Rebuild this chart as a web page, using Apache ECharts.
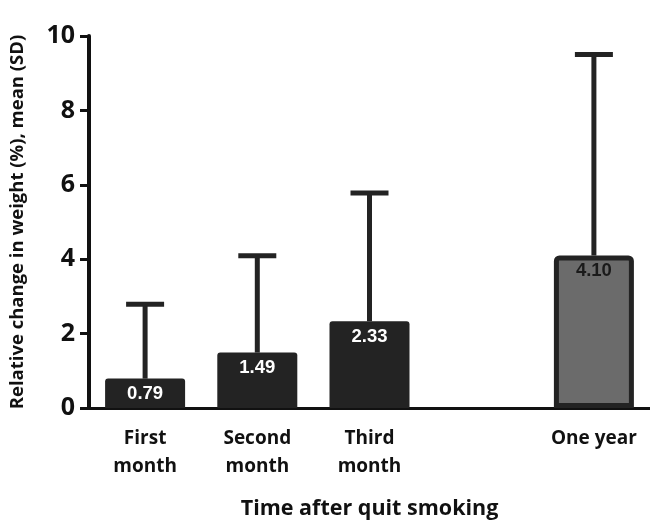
<!DOCTYPE html>
<html>
<head>
<meta charset="utf-8">
<script src="https://cdn.jsdelivr.net/npm/echarts@6/dist/echarts.min.js"></script>
<style>html,body{margin:0;padding:0;background:#fff;}#main{width:650px;height:525px;}</style>
</head>
<body>
<div id="main"></div>
<script>
var categories = ['First\nmonth', 'Second\nmonth', 'Third\nmonth', '', 'One year'];
var means = [0.79, 1.49, 2.33, null, 4.10];
var sds = [2.0, 2.6, 3.45, null, 5.4];
var yTicks = [0, 2, 4, 6, 8, 10];

var dark = '#232323';
var font = 'Open Sans';
var barData = means.map(function (v, i) {
  if (v === null) return null;
  if (i === 4) {
    return {
      value: v,
      itemStyle: { color: '#6b6b6b', borderColor: dark, borderWidth: 5, borderRadius: [3, 3, 0, 0] },
      label: { color: '#1a1a1a' }
    };
  }
  return { value: v };
});
var errData = means.map(function (v, i) {
  return v === null ? [i, null, null] : [i, v, v + sds[i]];
});

var chart = echarts.init(document.getElementById('main'));
chart.setOption({
  animation: false,
  grid: { left: 88, right: 0, top: 36, bottom: 113, containLabel: false },
  xAxis: {
    type: 'category',
    data: categories,
    name: 'Time after quit smoking',
    nameLocation: 'middle',
    nameGap: 90,
    nameTextStyle: { fontFamily: font, fontWeight: 'bold', fontSize: 21.5, color: '#111' },
    axisLine: { lineStyle: { color: '#111', width: 3 } },
    axisTick: { show: false },
    axisLabel: { fontFamily: font, fontWeight: 'bold', fontSize: 19, color: '#111', lineHeight: 28, margin: 17, interval: 0 }
  },
  yAxis: {
    type: 'value',
    min: yTicks[0],
    max: yTicks[yTicks.length - 1],
    interval: 2,
    name: 'Relative change in weight (%), mean (SD)',
    nameLocation: 'middle',
    nameGap: 62,
    nameTextStyle: { fontFamily: font, fontWeight: 'bold', fontSize: 18.5, color: '#111' },
    splitLine: { show: false },
    axisLine: { show: true, lineStyle: { color: '#111', width: 4 } },
    axisTick: { show: true, length: 9, lineStyle: { color: '#111', width: 3 } },
    axisLabel: { fontFamily: font, fontWeight: 'bold', fontSize: 25, color: '#111', margin: 14 }
  },
  series: [
    {
      type: 'bar',
      data: barData,
      barWidth: 80,
      z: 2,
      itemStyle: { color: dark, borderRadius: [3, 3, 0, 0] },
      label: {
        show: true,
        position: 'insideTop',
        distance: 6,
        color: '#fff',
        fontFamily: 'Liberation Sans',
        fontWeight: 'bold',
        fontSize: 18.5,
        formatter: function (p) { return p.value.toFixed(2); }
      }
    },
    {
      type: 'custom',
      z: 1,
      data: errData,
      renderItem: function (params, api) {
        var lo = api.value(1), hi = api.value(2);
        if (lo == null || isNaN(lo) || hi == null || isNaN(hi)) return null;
        var a = api.coord([api.value(0), lo]);
        var b = api.coord([api.value(0), hi]);
        var hw = 19;
        var st = { stroke: dark, lineWidth: 5 };
        return {
          type: 'group',
          children: [
            { type: 'line', shape: { x1: a[0], y1: a[1], x2: b[0], y2: b[1] }, style: st },
            { type: 'line', shape: { x1: b[0] - hw, y1: b[1], x2: b[0] + hw, y2: b[1] }, style: st }
          ]
        };
      }
    }
  ]
});
</script>
</body>
</html>
